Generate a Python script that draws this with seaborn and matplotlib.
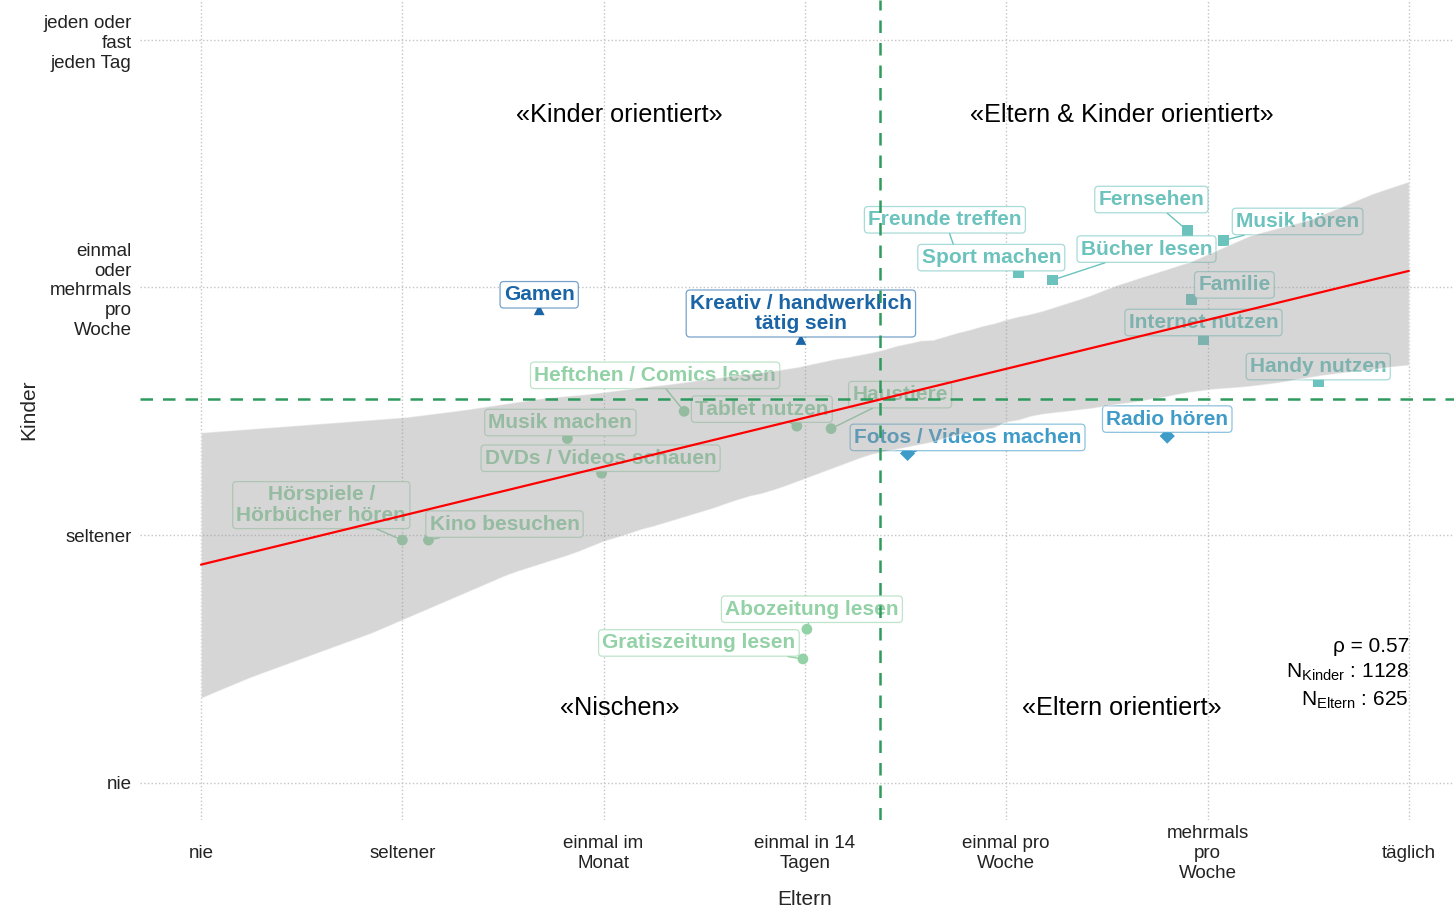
import numpy as np
import pandas as pd
import matplotlib
matplotlib.use("Agg")
import matplotlib.pyplot as plt
import matplotlib.colors as mcolors
import seaborn as sns

# Kategorien der Achsen
x_levels = ["nie", "seltener", "einmal im\nMonat", "einmal in 14\nTagen",
            "einmal pro\nWoche", "mehrmals\npro\nWoche", "täglich"]
y_levels = ["nie", "seltener", "einmal\noder\nmehrmals\npro\nWoche",
            "jeden oder\nfast\njeden Tag"]

# Aktivitaeten (Mittelwerte Eltern / Kinder)
aktivitaet = ["Gamen", "Kreativ / handwerklich\ntätig sein",
              "Fotos / Videos machen", "Radio hören",
              "Fernsehen", "Musik hören", "Freunde treffen", "Sport machen",
              "Bücher lesen", "Familie", "Internet nutzen", "Handy nutzen",
              "Heftchen / Comics lesen", "Tablet nutzen", "Haustiere",
              "Musik machen", "DVDs / Videos schauen",
              "Hörspiele /\nHörbücher hören", "Kino besuchen",
              "Abozeitung lesen", "Gratiszeitung lesen"]
eltern = [2.68, 3.98, 4.51, 5.80, 5.90, 6.08, 4.76, 5.06, 5.23, 5.92, 5.98,
          6.55, 3.40, 3.96, 4.13, 2.82, 2.99, 2.00, 2.13, 4.01, 3.99]
kinder = [2.91, 2.79, 2.33, 2.40, 3.23, 3.19, 3.12, 3.06, 3.03, 2.95, 2.79,
          2.62, 2.50, 2.44, 2.43, 2.39, 2.25, 1.98, 1.98, 1.62, 1.50]
gruppe = ["A", "A", "B", "B", "C", "C", "C", "C", "C", "C", "C", "C",
          "D", "D", "D", "D", "D", "D", "D", "D", "D"]

rho = 0.57
n_kinder = 1128
n_eltern = 625

# Label-Versatz in Pixeln (Layout)
label_dx = [0, 0, 60, 0, -36, 74, -13, -27, 94, 43, 0, 0,
            -29, -35, 69, -7, -1, -81, 76, 5, -104]
label_dy = [15, 26, 16, 17, 31, 19, 38, 15, 31, 15, 17, 15,
            36, 17, 34, 16, 15, 35, 16, 20, 16]

farben = {"A": "#1b65a6", "B": "#3f9bc8", "C": "#6cc3bd", "D": "#93d2a6"}
marker = {"A": "^", "B": "D", "C": "s", "D": "o"}

df = pd.DataFrame({"aktivitaet": aktivitaet, "eltern": eltern,
                   "kinder": kinder, "gruppe": gruppe})

sns.set_theme(style="white")
plt.rcParams["font.family"] = ["Liberation Sans", "DejaVu Sans"]
plt.rcParams["mathtext.fontset"] = "custom"
plt.rcParams["mathtext.rm"] = "Liberation Sans"

fig = plt.figure(figsize=(14.54, 9.11), dpi=100)
# Panel reicht rechts etwas ueber den Bildrand hinaus
ax = fig.add_axes([0.0963, 0.1, 0.9147, 0.9])

# Regressionslinie von nie bis taeglich
ax.set_xlim(1, 7)
sns.regplot(data=df, x="eltern", y="kinder", scatter=False, truncate=False,
            ci=98, seed=3, color="red", line_kws={"lw": 1.6, "zorder": 6}, ax=ax)
band = ax.collections[-1]
band.set_facecolor("#999999")
band.set_alpha(0.4)
band.set_zorder(4)

sns.scatterplot(data=df, x="eltern", y="kinder", hue="gruppe", style="gruppe",
                palette=farben, markers=marker, s=60, edgecolor="none",
                legend=False, zorder=2, ax=ax)

for i, row in df.iterrows():
    c = farben[row.gruppe]
    ax.annotate(row.aktivitaet, xy=(row.eltern, row.kinder),
                xytext=(label_dx[i], label_dy[i]), textcoords="offset pixels",
                ha="center", va="center", fontsize=15, fontweight="bold",
                color=c, linespacing=1.1, zorder=3,
                bbox=dict(boxstyle="round,pad=0.18", fc="white",
                          ec=mcolors.to_rgba(c, 0.6), lw=0.9),
                arrowprops=dict(arrowstyle="-", color=c, lw=1,
                                shrinkA=0, shrinkB=4))

# Mittelwerte als Quadrantengrenzen
ax.axvline(np.mean(eltern), color="#2e9a5e", ls=(0, (5, 4)), lw=1.8, zorder=5)
ax.axhline(np.mean(kinder), color="#2e9a5e", ls=(0, (5, 4)), lw=1.8, zorder=5)

quad = dict(fontsize=18.2, ha="center", va="center", color="black")
ax.text(3.08, 3.697, "«Kinder orientiert»", **quad)
ax.text(5.575, 3.697, "«Eltern & Kinder orientiert»", **quad)
ax.text(3.08, 1.303, "«Nischen»", **quad)
ax.text(5.575, 1.303, "«Eltern orientiert»", **quad)

stat = dict(fontsize=15, ha="right", va="center", color="black")
ax.text(7, 1.549, f"ρ = {rho}", **stat)
ax.text(7, 1.448, r"N$_{\mathrm{Kinder}}$ : " + str(n_kinder), **stat)
ax.text(7, 1.335, r"N$_{\mathrm{Eltern}}$ : " + str(n_eltern), **stat)

ax.set_xlim(0.697, 7.304)
ax.set_ylim(0.85, 4.161)
ax.set_xticks(range(1, 8))
ax.set_xticklabels(x_levels, fontsize=13.5, color="#222222", linespacing=1.22)
ax.set_yticks(range(1, 5))
ax.set_yticklabels(y_levels, fontsize=13.5, color="#222222", linespacing=1.22)
for t in ax.get_xticklabels():
    t.set_va("center")
ax.tick_params(axis="x", length=0, pad=24)
ax.tick_params(axis="y", length=0, pad=6)
ax.grid(True, color="#c4c4c4", ls=":", lw=1)
ax.set_axisbelow(True)
sns.despine(ax=ax, left=True, bottom=True)
ax.set_xlabel("Eltern", fontsize=15, labelpad=6)
ax.set_ylabel("Kinder", fontsize=15, labelpad=4)

fig.savefig("out.png", dpi=100)
